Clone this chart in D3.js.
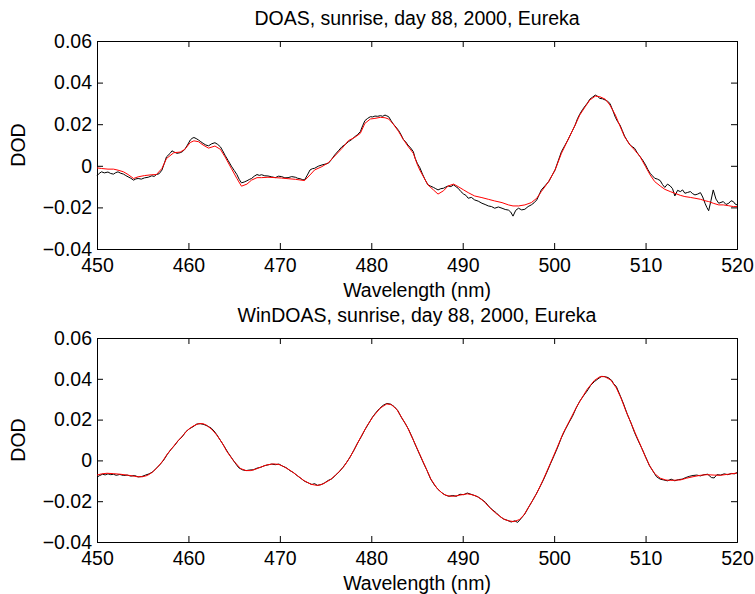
<!DOCTYPE html>
<html lang="en">
<head>
    <meta charset="UTF-8">
    <script src="https://d3js.org/d3.v7.min.js"></script>
    <title>DOAS vs WinDOAS</title>
    <style>
        body { margin: 0; background: #fff; }
        text { font-family: "Liberation Sans", Arial, Helvetica, sans-serif; }
    </style>
</head>
<body>
    <div id="chart"></div>
<script>
    // axis ticks
    const wlTicks = [450, 460, 470, 480, 490, 500, 510, 520]
    const dodTicks = [-0.04, -0.02, 0, 0.02, 0.04, 0.06]

    // panel titles
    const titles = ["DOAS, sunrise, day 88, 2000, Eureka", "WinDOAS, sunrise, day 88, 2000, Eureka"]

    // top panel: measured (black) and fitted (red), [wavelength nm, DOD]
    const doasMeas = [
        [450.0,-0.0048],[450.25,-0.0036],[450.5,-0.0029],[450.8,-0.0034],[451.2,-0.0030],[451.5,-0.0037],
        [451.8,-0.0040],[452.05,-0.0033],[452.3,-0.0029],[452.6,-0.0036],[452.9,-0.0040],[453.15,-0.0047],
        [453.4,-0.0053],[453.7,-0.0060],[454.0,-0.0069],[454.25,-0.0063],[454.5,-0.0061],[454.85,-0.0064],
        [455.2,-0.0058],[455.6,-0.0055],[456.0,-0.0048],[456.25,-0.0051],[456.5,-0.0042],[456.8,-0.0038],
        [457.1,-0.0021],[457.35,0.0010],[457.6,0.0043],[458.0,0.0060],[458.2,0.0072],[458.4,0.0067],
        [458.75,0.0060],[459.1,0.0063],[459.35,0.0068],[459.6,0.0079],[459.9,0.0100],[460.2,0.0124],
        [460.4,0.0132],[460.6,0.0136],[460.85,0.0131],[461.1,0.0124],[461.35,0.0116],[461.6,0.0108],
        [461.9,0.0100],[462.2,0.0096],[462.55,0.0106],[462.9,0.0111],[463.2,0.0103],[463.5,0.0091],
        [463.75,0.0072],[464.0,0.0051],[464.35,0.0025],[464.7,-0.0002],[465.0,-0.0022],[465.3,-0.0042],
        [465.55,-0.0065],[465.8,-0.0082],[466.1,-0.0078],[466.4,-0.0072],[466.65,-0.0066],[466.9,-0.0061],
        [467.2,-0.0050],[467.5,-0.0042],[467.75,-0.0046],[468.0,-0.0043],[468.35,-0.0048],[468.7,-0.0049],
        [469.1,-0.0053],[469.5,-0.0057],[469.85,-0.0050],[470.2,-0.0052],[470.55,-0.0058],[470.9,-0.0057],
        [471.3,-0.0052],[471.7,-0.0055],[471.95,-0.0060],[472.2,-0.0062],[472.45,-0.0066],[472.7,-0.0068],
        [473.0,-0.0045],[473.3,-0.0020],[473.55,-0.0014],[473.8,-0.0012],[474.2,-0.0002],[474.6,0.0004],
        [474.95,0.0008],[475.3,0.0012],[475.65,0.0030],[476.0,0.0052],[476.4,0.0072],[476.8,0.0092],
        [477.15,0.0102],[477.5,0.0116],[477.85,0.0126],[478.2,0.0140],[478.5,0.0150],[478.8,0.0164],
        [479.05,0.0192],[479.3,0.0217],[479.6,0.0228],[479.9,0.0236],[480.15,0.0235],[480.4,0.0239],
        [480.7,0.0238],[481.0,0.0241],[481.25,0.0238],[481.5,0.0244],[481.7,0.0240],[481.9,0.0236],
        [482.15,0.0218],[482.4,0.0201],[482.7,0.0186],[483.0,0.0169],[483.25,0.0150],[483.5,0.0127],
        [483.75,0.0116],[484.0,0.0100],[484.3,0.0086],[484.6,0.0068],[484.8,0.0036],[485.05,0.0010],
        [485.3,-0.0008],[485.6,-0.0040],[485.9,-0.0068],[486.2,-0.0092],[486.5,-0.0098],[486.8,-0.0104],
        [487.05,-0.0110],[487.3,-0.0116],[487.6,-0.0110],[487.9,-0.0108],[488.15,-0.0102],[488.4,-0.0097],
        [488.7,-0.0100],[489.0,-0.0092],[489.25,-0.0100],[489.5,-0.0108],[489.8,-0.0124],[490.1,-0.0136],
        [490.35,-0.0142],[490.6,-0.0156],[490.95,-0.0152],[491.3,-0.0164],[491.7,-0.0170],[492.1,-0.0180],
        [492.45,-0.0186],[492.8,-0.0193],[493.15,-0.0196],[493.5,-0.0204],[493.9,-0.0198],[494.3,-0.0204],
        [494.65,-0.0210],[495.0,-0.0213],[495.25,-0.0222],[495.5,-0.0242],[495.8,-0.0214],[496.1,-0.0204],
        [496.45,-0.0212],[496.8,-0.0209],[497.15,-0.0196],[497.5,-0.0188],[497.8,-0.0178],[498.1,-0.0164],
        [498.35,-0.0140],[498.6,-0.0116],[499.0,-0.0096],[499.4,-0.0076],[499.75,-0.0048],[500.1,-0.0020],
        [500.45,0.0024],[500.8,0.0068],[501.15,0.0096],[501.5,0.0124],[501.9,0.0160],[502.3,0.0196],
        [502.55,0.0226],[502.8,0.0248],[503.1,0.0270],[503.4,0.0288],[503.65,0.0302],[503.9,0.0320],
        [504.2,0.0330],[504.5,0.0340],[504.75,0.0334],[505.0,0.0324],[505.3,0.0322],[505.6,0.0316],
        [505.85,0.0310],[506.1,0.0300],[506.4,0.0268],[506.7,0.0233],[506.95,0.0212],[507.2,0.0196],
        [507.45,0.0170],[507.7,0.0143],[508.0,0.0120],[508.3,0.0100],[508.55,0.0092],[508.8,0.0084],
        [509.1,0.0062],[509.4,0.0044],[509.7,0.0026],[510.0,0.0004],[510.25,-0.0018],[510.5,-0.0036],
        [510.75,-0.0048],[511.0,-0.0060],[511.3,-0.0064],[511.6,-0.0071],[511.85,-0.0090],[512.1,-0.0104],
        [512.4,-0.0088],[512.7,-0.0097],[512.95,-0.0110],[513.2,-0.0145],[513.5,-0.0118],[513.8,-0.0124],
        [514.05,-0.0116],[514.3,-0.0132],[514.6,-0.0128],[514.9,-0.0124],[515.15,-0.0134],[515.4,-0.0140],
        [515.7,-0.0136],[516.0,-0.0129],[516.25,-0.0150],[516.5,-0.0180],[516.7,-0.0200],[516.9,-0.0216],
        [517.15,-0.0168],[517.4,-0.0116],[517.7,-0.0160],[518.0,-0.0180],[518.25,-0.0176],[518.5,-0.0172],
        [518.8,-0.0186],[519.1,-0.0180],[519.35,-0.0168],[519.6,-0.0172],[519.8,-0.0184],[520.0,-0.0188]
    ]
    const doasFit = [
        [450.0,-0.0010],[450.5,-0.0013],[451.2,-0.0016],[451.8,-0.0016],[452.3,-0.0021],[452.9,-0.0029],
        [453.4,-0.0042],[454.0,-0.0061],[454.5,-0.0053],[455.2,-0.0047],[456.0,-0.0043],[456.5,-0.0042],
        [457.1,-0.0013],[457.6,0.0035],[458.4,0.0063],[459.1,0.0066],[459.6,0.0079],[460.2,0.0112],
        [460.6,0.0120],[461.1,0.0116],[461.6,0.0100],[462.2,0.0085],[462.9,0.0095],[463.5,0.0079],
        [464.0,0.0043],[464.7,-0.0013],[465.3,-0.0061],[465.8,-0.0098],[466.4,-0.0088],[466.9,-0.0069],
        [467.5,-0.0057],[468.0,-0.0057],[468.7,-0.0055],[469.5,-0.0057],[470.2,-0.0059],[470.9,-0.0062],
        [471.7,-0.0065],[472.2,-0.0068],[472.7,-0.0071],[473.3,-0.0044],[473.8,-0.0020],[474.6,-0.0004],
        [475.3,0.0015],[476.0,0.0047],[476.8,0.0084],[477.5,0.0121],[478.2,0.0137],[478.8,0.0156],
        [479.3,0.0204],[479.9,0.0225],[480.4,0.0228],[481.0,0.0233],[481.5,0.0231],[481.9,0.0225],
        [482.4,0.0201],[483.0,0.0164],[483.5,0.0127],[484.0,0.0095],[484.6,0.0060],[485.0,0.0010],
        [485.3,-0.0020],[485.9,-0.0068],[486.2,-0.0092],[486.8,-0.0116],[487.3,-0.0136],[487.9,-0.0120],
        [488.4,-0.0097],[489.0,-0.0088],[489.5,-0.0100],[490.1,-0.0116],[490.6,-0.0129],[491.3,-0.0145],
        [492.1,-0.0153],[492.8,-0.0161],[493.5,-0.0169],[494.3,-0.0177],[495.0,-0.0188],[495.5,-0.0193],
        [496.1,-0.0193],[496.8,-0.0188],[497.5,-0.0177],[498.1,-0.0156],[498.6,-0.0124],[499.4,-0.0076],
        [500.1,-0.0020],[500.8,0.0060],[501.5,0.0124],[502.3,0.0196],[502.8,0.0244],[503.4,0.0284],
        [503.9,0.0316],[504.5,0.0335],[505.0,0.0332],[505.6,0.0320],[506.1,0.0292],[506.7,0.0244],
        [507.2,0.0191],[507.7,0.0140],[508.3,0.0100],[508.8,0.0076],[509.4,0.0044],[510.0,-0.0004],
        [510.5,-0.0044],[511.0,-0.0076],[511.6,-0.0097],[512.1,-0.0113],[512.7,-0.0124],[513.2,-0.0132],
        [513.8,-0.0142],[514.3,-0.0148],[514.9,-0.0152],[515.4,-0.0156],[516.0,-0.0161],[516.5,-0.0168],
        [516.9,-0.0172],[517.4,-0.0180],[518.0,-0.0188],[518.5,-0.0188],[519.1,-0.0192],[519.6,-0.0196],
        [520.0,-0.0196]
    ]

    // bottom panel
    const winMeas = [
        [450.0,-0.0082],[450.3,-0.0074],[450.6,-0.0068],[450.9,-0.0071],[451.2,-0.0066],[451.5,-0.0070],
        [451.8,-0.0068],[452.1,-0.0073],[452.5,-0.0069],[452.9,-0.0074],[453.3,-0.0072],[453.7,-0.0077],
        [454.1,-0.0074],[454.5,-0.0081],[454.9,-0.0079],[455.3,-0.0072],[455.7,-0.0066],[456.1,-0.0056],
        [456.5,-0.0038],[456.9,-0.0020],[457.3,0.0002],[457.7,0.0030],[458.1,0.0054],[458.5,0.0074],
        [458.9,0.0098],[459.3,0.0115],[459.7,0.0140],[460.1,0.0155],[460.5,0.0165],[460.9,0.0178],
        [461.3,0.0180],[461.7,0.0176],[462.1,0.0168],[462.5,0.0158],[462.8,0.0144],[463.1,0.0126],
        [463.5,0.0098],[463.9,0.0070],[464.3,0.0040],[464.7,0.0014],[465.1,-0.0012],[465.5,-0.0036],
        [465.9,-0.0046],[466.3,-0.0050],[466.7,-0.0047],[467.1,-0.0046],[467.5,-0.0038],[467.9,-0.0034],
        [468.3,-0.0026],[468.7,-0.0022],[469.1,-0.0018],[469.5,-0.0021],[469.9,-0.0018],[470.3,-0.0028],
        [470.7,-0.0036],[471.1,-0.0050],[471.5,-0.0060],[471.9,-0.0075],[472.3,-0.0088],[472.7,-0.0102],
        [473.1,-0.0110],[473.5,-0.0118],[473.8,-0.0114],[474.1,-0.0122],[474.5,-0.0119],[474.9,-0.0110],
        [475.3,-0.0098],[475.7,-0.0090],[476.1,-0.0072],[476.5,-0.0056],[476.9,-0.0034],[477.3,-0.0010],
        [477.7,0.0018],[478.1,0.0050],[478.5,0.0085],[478.9,0.0116],[479.3,0.0150],[479.7,0.0180],
        [480.1,0.0210],[480.5,0.0234],[480.9,0.0254],[481.3,0.0270],[481.7,0.0279],[482.1,0.0276],
        [482.5,0.0264],[482.9,0.0244],[483.3,0.0210],[483.7,0.0182],[484.1,0.0150],[484.5,0.0110],
        [484.9,0.0068],[485.3,0.0028],[485.7,-0.0012],[486.1,-0.0050],[486.5,-0.0092],[486.9,-0.0120],
        [487.3,-0.0142],[487.7,-0.0158],[488.1,-0.0170],[488.5,-0.0176],[488.9,-0.0172],[489.3,-0.0176],
        [489.7,-0.0166],[490.1,-0.0168],[490.5,-0.0160],[490.9,-0.0166],[491.3,-0.0172],[491.7,-0.0180],
        [492.1,-0.0192],[492.5,-0.0206],[492.9,-0.0228],[493.3,-0.0244],[493.7,-0.0258],[494.1,-0.0276],
        [494.5,-0.0288],[494.9,-0.0294],[495.3,-0.0302],[495.7,-0.0296],[496.0,-0.0304],[496.4,-0.0284],
        [496.8,-0.0262],[497.2,-0.0230],[497.6,-0.0200],[498.0,-0.0168],[498.4,-0.0134],[498.8,-0.0098],
        [499.2,-0.0058],[499.6,-0.0016],[500.0,0.0024],[500.4,0.0066],[500.8,0.0112],[501.2,0.0150],
        [501.6,0.0184],[502.0,0.0216],[502.4,0.0256],[502.8,0.0290],[503.2,0.0316],[503.6,0.0340],
        [504.0,0.0368],[504.4,0.0386],[504.8,0.0400],[505.2,0.0412],[505.6,0.0410],[505.9,0.0406],
        [506.3,0.0392],[506.5,0.0376],[506.8,0.0362],[507.2,0.0320],[507.6,0.0276],[508.0,0.0226],
        [508.4,0.0184],[508.8,0.0136],[509.2,0.0096],[509.6,0.0058],[510.0,0.0018],[510.4,-0.0024],
        [510.8,-0.0052],[511.2,-0.0080],[511.6,-0.0092],[512.0,-0.0096],[512.4,-0.0100],[512.8,-0.0092],
        [513.2,-0.0100],[513.6,-0.0094],[514.0,-0.0092],[514.4,-0.0084],[514.8,-0.0078],[515.2,-0.0074],
        [515.6,-0.0072],[516.0,-0.0076],[516.4,-0.0070],[516.8,-0.0068],[517.2,-0.0084],[517.5,-0.0086],
        [517.8,-0.0070],[518.2,-0.0072],[518.6,-0.0066],[519.0,-0.0070],[519.4,-0.0064],[519.7,-0.0066],
        [520.0,-0.0060]
    ]
    const winFit = [
        [450.0,-0.0072],[450.5,-0.0066],[451.1,-0.0063],[451.8,-0.0065],[452.6,-0.0068],[453.6,-0.0074],
        [454.4,-0.0080],[455.0,-0.0080],[455.5,-0.0074],[456.0,-0.0060],[456.6,-0.0035],[457.2,-0.0002],
        [457.7,0.0032],[458.3,0.0065],[458.8,0.0093],[459.4,0.0122],[459.9,0.0148],[460.5,0.0168],
        [461.1,0.0180],[461.6,0.0180],[462.0,0.0172],[462.6,0.0150],[463.1,0.0124],[463.7,0.0085],
        [464.2,0.0044],[464.9,0.0000],[465.7,-0.0040],[466.3,-0.0050],[466.8,-0.0050],[467.3,-0.0044],
        [467.9,-0.0033],[468.6,-0.0022],[469.3,-0.0017],[469.9,-0.0020],[470.4,-0.0030],[471.1,-0.0048],
        [471.9,-0.0074],[472.6,-0.0098],[473.4,-0.0117],[474.1,-0.0123],[474.7,-0.0116],[475.5,-0.0095],
        [476.2,-0.0068],[477.0,-0.0030],[477.6,0.0010],[478.1,0.0050],[478.8,0.0110],[479.5,0.0167],
        [480.2,0.0215],[481.0,0.0257],[481.7,0.0277],[482.2,0.0273],[482.8,0.0249],[483.3,0.0212],
        [483.9,0.0167],[484.6,0.0100],[485.4,0.0020],[486.0,-0.0040],[486.5,-0.0090],[487.2,-0.0138],
        [487.9,-0.0166],[488.4,-0.0174],[489.0,-0.0176],[489.7,-0.0170],[490.5,-0.0164],[491.0,-0.0168],
        [491.6,-0.0177],[492.3,-0.0200],[493.0,-0.0234],[493.7,-0.0262],[494.5,-0.0288],[495.0,-0.0296],
        [495.6,-0.0300],[496.2,-0.0290],[496.7,-0.0267],[497.4,-0.0215],[498.1,-0.0161],[498.8,-0.0095],
        [499.6,-0.0013],[500.3,0.0060],[501.0,0.0135],[501.5,0.0178],[502.5,0.0266],[503.6,0.0348],
        [504.4,0.0392],[505.0,0.0410],[505.5,0.0411],[506.2,0.0394],[506.8,0.0355],[507.3,0.0307],
        [507.8,0.0248],[508.4,0.0184],[509.0,0.0120],[509.5,0.0069],[510.0,0.0015],[510.5,-0.0030],
        [511.0,-0.0065],[511.6,-0.0087],[512.2,-0.0096],[512.7,-0.0098],[513.8,-0.0096],[514.5,-0.0087],
        [515.3,-0.0079],[516.0,-0.0073],[516.7,-0.0070],[517.5,-0.0072],[518.2,-0.0073],[519.0,-0.0068],
        [520.0,-0.0062]
    ]

    const W = 755, H = 594
    const fs = 19.5
    const fmt = d => d === 0 ? "0" : d3.format(".2f")(d)

    const svg = d3.select("#chart").append("svg")
        .attr("width", W).attr("height", H)

    function drawPanel(top, bottom, title, meas, fit) {
        const left = 97, right = 737
        const x = d3.scaleLinear().domain([450, 520]).range([left, right])
        const y = d3.scaleLinear().domain([-0.04, 0.06]).range([bottom, top])
        const g = svg.append("g")

        // axes, ticks pointing inwards like matlab
        g.append("g").attr("transform", `translate(0,${bottom})`)
            .call(d3.axisBottom(x).tickValues(wlTicks).tickSize(-6).tickPadding(9))
        g.append("g").attr("transform", `translate(0,${top})`)
            .call(d3.axisTop(x).tickValues(wlTicks).tickSize(-6).tickFormat(""))
        g.append("g").attr("transform", `translate(${left},0)`)
            .call(d3.axisLeft(y).tickValues(dodTicks).tickSize(-6).tickPadding(5).tickFormat(fmt))
        g.append("g").attr("transform", `translate(${right},0)`)
            .call(d3.axisRight(y).tickValues(dodTicks).tickSize(-6).tickFormat(""))
        g.selectAll(".domain").attr("stroke", "#000").attr("stroke-width", 1)
        g.selectAll(".tick line").attr("stroke", "#000")
        g.selectAll(".tick text").attr("font-size", fs).attr("fill", "#000")
            .attr("font-family", '"Liberation Sans", Arial, sans-serif')

        const line = d3.line().x(d => x(d[0])).y(d => y(d[1]))
        g.append("path").datum(meas).attr("d", line)
            .attr("fill", "none").attr("stroke", "#000").attr("stroke-width", 1)
        g.append("path").datum(fit).attr("d", line)
            .attr("fill", "none").attr("stroke", "#ff0000").attr("stroke-width", 1)

        g.append("text").attr("x", (left + right) / 2).attr("y", top - 16)
            .attr("text-anchor", "middle").attr("font-size", fs).text(title)
        g.append("text").attr("x", (left + right) / 2).attr("y", bottom + 48)
            .attr("text-anchor", "middle").attr("font-size", fs).text("Wavelength (nm)")
        g.append("text")
            .attr("transform", `translate(25,${(top + bottom) / 2}) rotate(-90)`)
            .attr("text-anchor", "middle").attr("font-size", fs).text("DOD")
    }

    drawPanel(41, 249, titles[0], doasMeas, doasFit)
    drawPanel(338, 542, titles[1], winMeas, winFit)
</script>
</body>
</html>
